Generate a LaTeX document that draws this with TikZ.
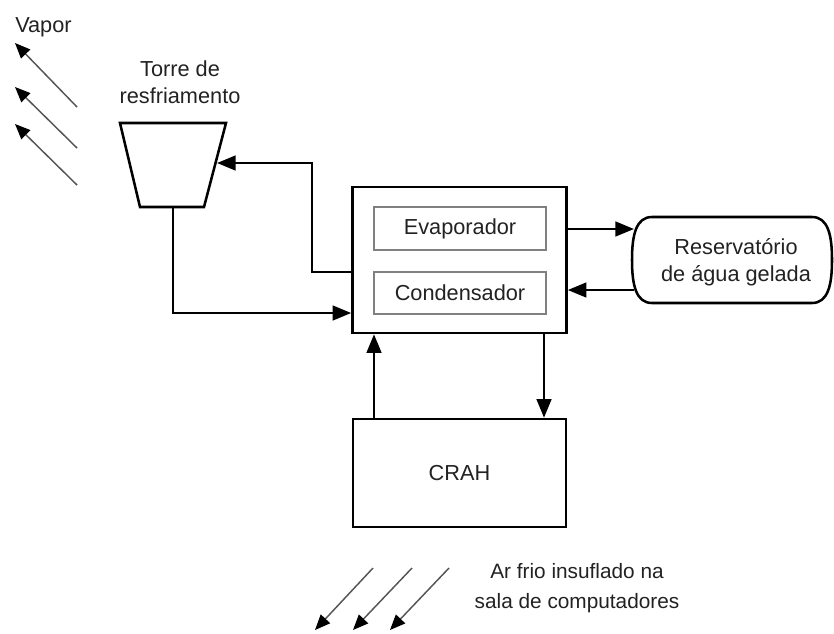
\documentclass[tikz,border=0pt]{standalone}
\usepackage{fontspec}
\setmainfont{Liberation Sans}
\usetikzlibrary{arrows.meta,calc}
\definecolor{txt}{HTML}{222222}
\definecolor{inner}{HTML}{808080}
\definecolor{thin}{HTML}{555555}
\tikzset{
  conn/.style={line width=1.9pt,draw=black,-{Triangle[length=14pt,width=11pt]}},
  wire/.style={line width=1.9pt,draw=black},
  mainbox/.style={draw=black,line width=1.9pt,inner sep=0pt,fill=white},
  innerbox/.style={draw=inner,line width=1.2pt,inner sep=0pt,text=txt},
  lbl/.style={text=txt,align=center,inner sep=0pt},
  flow/.style={line width=1.1pt,draw=thin,-{Triangle[length=11.5pt,width=9.5pt,fill=black,color=black]}},
}
\begin{document}
\begin{tikzpicture}[x=0.75pt,y=-0.75pt,font=\fontsize{16.3}{20.5}\selectfont]
\useasboundingbox (0,0) rectangle (834,633);
% main unit
\node[mainbox,minimum width=160.5pt,minimum height=109.5pt] (main) at (459.5,260) {};
\node[innerbox,minimum width=129pt,minimum height=32.25pt] (evap) at (460,228.5) {\raisebox{-1.8pt}{Evaporador}};
\node[innerbox,minimum width=129pt,minimum height=31.5pt] (cond) at (460,293) {\raisebox{-1.8pt}{Condensador}};
% CRAH
\node[mainbox,minimum width=159.75pt,minimum height=81pt,text=txt] (crah) at (459.5,473) {\raisebox{-1.5pt}{CRAH}};
% cooling tower
\draw[wire,line join=miter] (120,123) -- (226,123) -- (204,207) -- (140,207) -- cycle;
\coordinate (tR) at (217,163);
\coordinate (tB) at (173,207);
\node[lbl] (tlabel) at (180,82) {Torre de\\resfriamento};
% reservoir
\draw[wire] (652,217) -- (812,217) .. controls (828,217) and (832,235) .. (832,260)
  .. controls (832,285) and (828,303) .. (812,303) -- (652,303)
  .. controls (636,303) and (632,285) .. (632,260)
  .. controls (632,235) and (636,217) .. (652,217) -- cycle;
\node[lbl] (res) at (736,262) {Reservatório\\de água gelada};
\coordinate (rIn) at (634,229);
\coordinate (rOut) at (634,290);
% connectors
\draw[conn] ($(main.west)+(0,12)$) -| (312,163) -- (tR);
\draw[conn] (tB) |- ($(main.west)+(0,53)$);
\draw[conn] (main.east |- rIn) -- (rIn);
\draw[conn] (rOut) -- (main.east |- rOut);
\draw[conn] (main.south -| 544,0) -- (crah.north -| 544,0);
\draw[conn] (crah.north -| 374,0) -- (main.south -| 374,0);
% vapor
\node[lbl,anchor=west] (vapor) at (15,27) {Vapor};
\coordinate (v1s) at (77,107); \coordinate (v1e) at (15,43);
\coordinate (v2s) at (77,148); \coordinate (v2e) at (15,87);
\coordinate (v3s) at (77,185); \coordinate (v3e) at (15,124);
\draw[flow] (v1s) -- (v1e);
\draw[flow] (v2s) -- (v2e);
\draw[flow] (v3s) -- (v3e);
% cold air
\coordinate (a1s) at (373,568); \coordinate (a1e) at (315,630);
\coordinate (a2s) at (412,568); \coordinate (a2e) at (353,630);
\coordinate (a3s) at (449,568); \coordinate (a3e) at (390,630);
\draw[flow] (a1s) -- (a1e);
\draw[flow] (a2s) -- (a2e);
\draw[flow] (a3s) -- (a3e);
\node[lbl,font=\fontsize{15.6}{22.5}\selectfont] (air) at (577,588) {Ar frio insuflado na\\sala de computadores};
\end{tikzpicture}
\end{document}
